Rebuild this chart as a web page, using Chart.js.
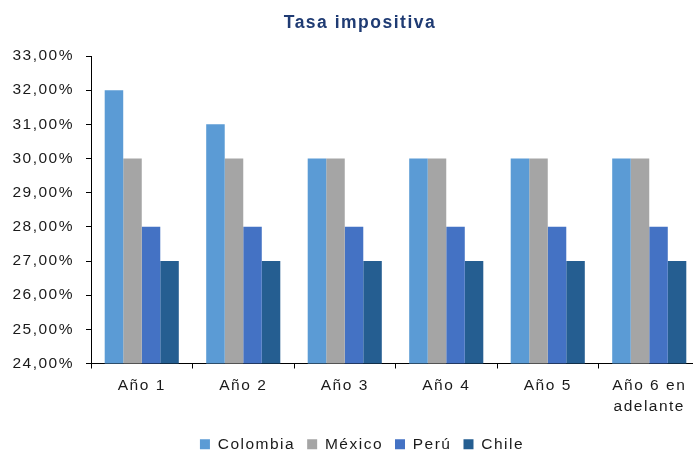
<!DOCTYPE html>
<html>
<head>
<meta charset="utf-8">
<script src="https://cdn.jsdelivr.net/npm/chart.js@4.4.1/dist/chart.umd.min.js"></script>
<style>
  html, body { margin: 0; padding: 0; background: #fff; }
  #wrap { width: 693px; height: 451px; overflow: hidden; position: relative; }
  canvas { display: block; }
</style>
</head>
<body>
<div id="wrap"><canvas id="myChart" width="720" height="462"></canvas></div>
<script>
// values (percent)
const categories = ['Año 1', 'Año 2', 'Año 3', 'Año 4', 'Año 5', ['Año 6 en', 'adelante']];
const colombia = [32, 31, 30, 30, 30, 30];
const mexico = [30, 30, 30, 30, 30, 30];
const peru = [28, 28, 28, 28, 28, 28];
const chile = [27, 27, 27, 27, 27, 27];
const yMin = 24, yMax = 33, yStep = 1;

const font = 'Liberation Sans, Arial, sans-serif';
const textColor = '#1a1a1a';

// text in the picture is a bit wider than plain Arial,
// and title / legend sit a little right of the canvas middle
const tweaks = {
  id: 'tweaks',
  beforeUpdate(chart) { chart.ctx.letterSpacing = '1.5px'; },
  afterLayout(chart) {
    chart.titleBlock.left += 10;
    chart.titleBlock.right += 10;
    chart.legend.left += 12;
    chart.legend.right += 12;
  }
};

const ctx = document.getElementById('myChart');
var chart = new Chart(ctx, {
  type: 'bar',
  data: {
    labels: categories,
    datasets: [
      { label: 'Colombia', data: colombia, backgroundColor: '#5B9BD5' },
      { label: 'México', data: mexico, backgroundColor: '#A5A5A5' },
      { label: 'Perú', data: peru, backgroundColor: '#4472C4' },
      { label: 'Chile', data: chile, backgroundColor: '#255E91' }
    ]
  },
  options: {
    responsive: false,
    animation: false,
    datasets: { bar: { categoryPercentage: 0.73, barPercentage: 1.0 } },
    layout: { padding: { left: 0, right: 20, top: 0, bottom: 0 } },
    plugins: {
      title: {
        display: true,
        text: 'Tasa impositiva',
        color: '#1F3B73',
        font: { family: font, size: 17.5, weight: 'bold', lineHeight: 1.2 },
        padding: { top: 13, bottom: 22 }
      },
      legend: {
        position: 'bottom',
        labels: {
          color: textColor,
          font: { family: font, size: 15.5 },
          boxWidth: 10,
          boxHeight: 10,
          padding: 12
        }
      },
      tooltip: { enabled: false }
    },
    scales: {
      x: {
        grid: { display: true, drawOnChartArea: false, drawTicks: true, tickLength: 5, color: '#000', offset: true },
        border: { display: true, color: '#000', width: 1 },
        ticks: { color: textColor, font: { family: font, size: 15.5, lineHeight: 1.4 }, padding: 6, maxRotation: 0, autoSkip: false },
        afterFit(scale) { scale.height = 61; }
      },
      y: {
        min: yMin,
        max: yMax,
        grid: { display: true, drawOnChartArea: false, drawTicks: true, tickLength: 5, color: '#000' },
        border: { display: true, color: '#000', width: 1 },
        ticks: {
          stepSize: yStep,
          color: textColor,
          font: { family: font, size: 15.5 },
          padding: 12,
          callback: v => v.toFixed(2).replace('.', ',') + '%'
        },
        afterFit(scale) { scale.width = 91; }
      }
    }
  },
  plugins: [tweaks]
});
</script>
</body>
</html>
